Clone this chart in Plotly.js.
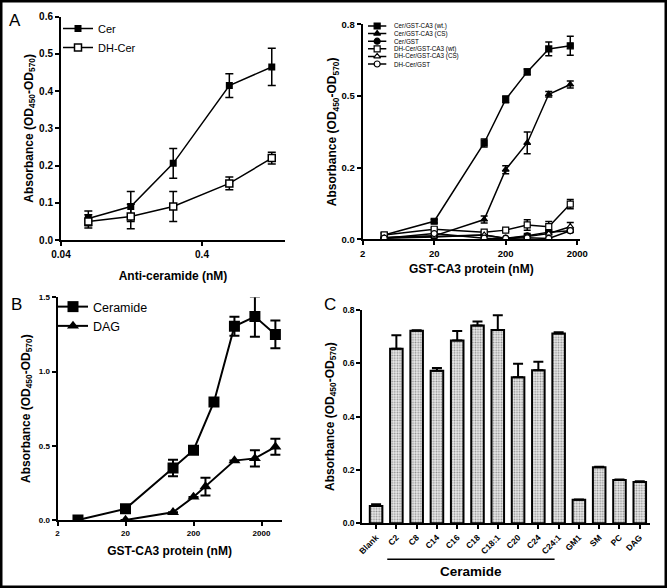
<!DOCTYPE html>
<html>
<head>
<meta charset="utf-8">
<script src="https://cdn.plot.ly/plotly-3.0.1.min.js"></script>
<style>html,body{margin:0;padding:0;background:#fff;}#chart{width:667px;height:588px;}</style>
</head>
<body>
<div id="chart"></div>
<script>
// ---------- Panel A (left): anti-ceramide titration ----------
const antiCerConc = [0.0625, 0.125, 0.25, 0.625, 1.25];
const cerAbs      = [0.058, 0.090, 0.206, 0.415, 0.465];
const cerErr      = [0.020, 0.040, 0.040, 0.032, 0.050];
const dhCerAbs    = [0.050, 0.063, 0.090, 0.152, 0.220];
const dhCerErr    = [0.018, 0.033, 0.040, 0.017, 0.016];
const panelAXTicks = [0.04, 0.4];
const panelAXTickText = ['0.04', '0.4'];

// ---------- Panel A (right): GST-CA3 binding ----------
const gstConc   = [4, 20, 100, 200, 400, 800, 1600];
const cerWT     = [0.015, 0.063, 0.336, 0.488, 0.584, 0.664, 0.675];
const cerWTErr  = [0.008, 0.006, 0.014, 0.012, 0.010, 0.024, 0.033];
const cerCS     = [0.006, 0.012, 0.069, 0.243, 0.336, 0.506, 0.540];
const cerCSErr  = [0.000, 0.000, 0.012, 0.014, 0.038, 0.010, 0.012];
const cerGST    = [0.004, 0.008, 0.015, 0.004, 0.012, 0.025, 0.030];
const cerGSTErr = [0.000, 0.000, 0.000, 0.000, 0.004, 0.006, 0.006];
const dhWT      = [0.015, 0.035, 0.025, 0.032, 0.050, 0.044, 0.123];
const dhWTErr   = [0.004, 0.005, 0.004, 0.004, 0.018, 0.018, 0.016];
const dhCS      = [0.005, 0.010, 0.015, 0.003, 0.010, 0.020, 0.044];
const dhCSErr   = [0.000, 0.000, 0.000, 0.000, 0.010, 0.012, 0.015];
const dhGST     = [0.004, 0.020, 0.004, 0.003, 0.005, 0.003, 0.030];
const dhGSTErr  = [0.000, 0.000, 0.000, 0.000, 0.000, 0.000, 0.004];
const a2Names = ['Cer/GST-CA3 (wt.)', 'Cer/GST-CA3 (CS)', 'Cer/GST',
                 'DH-Cer/GST-CA3 (wt)', 'DH-Cer/GST-CA3 (CS)', 'DH-Cer/GST'];
const a2YTicks = [0, 0.25, 0.5, 0.75];
const a2YTickText = ['0.0', '0.2', '0.5', '0.8'];
const gstXTicks = [2, 20, 200, 2000];
const gstXTickText = ['2', '20', '200', '2000'];

// ---------- Panel B ----------
const bCerConc = [4, 20, 100, 200, 400, 800, 1600, 3200];
const bCerAbs  = [0.000, 0.075, 0.350, 0.470, 0.795, 1.305, 1.370, 1.250];
const bCerErr  = [0.000, 0.000, 0.055, 0.015, 0.015, 0.064, 0.135, 0.093];
const bDagConc = [20, 100, 200, 300, 800, 1600, 3200];
const bDagAbs  = [0.000, 0.052, 0.155, 0.225, 0.400, 0.415, 0.493];
const bDagErr  = [0.000, 0.000, 0.000, 0.060, 0.000, 0.054, 0.054];

// ---------- Panel C ----------
const lipids   = ['Blank','C2','C8','C14','C16','C18','C18:1','C20','C24','C24:1','GM1','SM','PC','DAG'];
const lipidAbs = [0.065, 0.655, 0.722, 0.572, 0.686, 0.742, 0.725, 0.548, 0.574, 0.712, 0.088, 0.210, 0.162, 0.155];
const lipidErr = [0.006, 0.050, 0.002, 0.010, 0.035, 0.015, 0.055, 0.050, 0.032, 0.005, 0.001, 0.002, 0.002, 0.003];
const ceramideGroup = ['C2', 'C24:1'];

// ---------- styling helpers ----------
const F = 'Liberation Sans, Arial, Helvetica, sans-serif';
const W = 667, H = 588;
const px = v => v / W;            // horizontal pixel -> paper
const py = v => 1 - v / H;        // vertical pixel -> paper
const yTitle = 'Absorbance (OD<sub>450</sub>-OD<sub>570</sub>)';

function axis(extra, tsize) {
  return Object.assign({
    showline: true, linecolor: 'black', linewidth: 2,
    ticks: 'outside', ticklen: 4, tickwidth: 2, tickcolor: 'black',
    showgrid: false, zeroline: false, fixedrange: true,
    tickfont: {family: F, size: tsize || 10, weight: 'bold', color: 'black'}
  }, extra);
}
function ttl(text, standoff, size) {
  return {text: text, standoff: standoff, font: {family: F, size: size || 12, weight: 'bold', color: 'black'}};
}
function err(arr, w, th) {
  return {type: 'data', array: arr, visible: true, color: 'black', thickness: th || 1.5, width: w || 4};
}

const traces = [];

// Panel A left
traces.push({x: antiCerConc, y: cerAbs, name: 'Cer', xaxis: 'x', yaxis: 'y', legend: 'legend',
  mode: 'lines+markers', line: {color: 'black', width: 1.5},
  marker: {symbol: 'square', size: 7, color: 'black'}, error_y: err(cerErr, 4, 1.5)});
traces.push({x: antiCerConc, y: dhCerAbs, name: 'DH-Cer', xaxis: 'x', yaxis: 'y', legend: 'legend',
  mode: 'lines+markers', line: {color: 'black', width: 1.5},
  marker: {symbol: 'square', size: 7, color: 'white', line: {color: 'black', width: 1.5}}, error_y: err(dhCerErr, 4, 1.5)});

// Panel A right
const a2Series = [
  {y: cerWT,  e: cerWTErr,  sym: 'square',      fill: 'black'},
  {y: cerCS,  e: cerCSErr,  sym: 'triangle-up', fill: 'black'},
  {y: cerGST, e: cerGSTErr, sym: 'circle',      fill: 'black'},
  {y: dhWT,   e: dhWTErr,   sym: 'square',      fill: 'white'},
  {y: dhCS,   e: dhCSErr,   sym: 'triangle-up', fill: 'white'},
  {y: dhGST,  e: dhGSTErr,  sym: 'circle',      fill: 'white'}
];
a2Series.forEach((s, i) => {
  traces.push({x: gstConc, y: s.y, name: a2Names[i], xaxis: 'x2', yaxis: 'y2', showlegend: false,
    mode: 'lines+markers', line: {color: 'black', width: 1.5},
    marker: {symbol: s.sym, size: 6, color: s.fill, line: {color: 'black', width: 1.2}},
    error_y: err(s.e, 3.5, 1.5)});
});
// hand-made compact legend for panel A right (rows drawn on a hidden helper axis)
a2Series.forEach((s, i) => {
  traces.push({x: [0, 0.5, 1], y: [i, i, i], xaxis: 'x5', yaxis: 'y5', showlegend: false, hoverinfo: 'skip',
    mode: 'lines+markers', cliponaxis: false, line: {color: 'black', width: 1.5},
    marker: {symbol: s.sym, size: 6, color: s.fill, opacity: [0, 1, 0], line: {color: 'black', width: 1.2}}});
});

// Panel B
traces.push({x: bCerConc, y: bCerAbs, name: 'Ceramide', xaxis: 'x3', yaxis: 'y3', legend: 'legend2',
  mode: 'lines+markers', line: {color: 'black', width: 2},
  marker: {symbol: 'square', size: 11, color: 'black'}, error_y: err(bCerErr, 5, 2)});
traces.push({x: bDagConc, y: bDagAbs, name: 'DAG', xaxis: 'x3', yaxis: 'y3', legend: 'legend2',
  mode: 'lines+markers', line: {color: 'black', width: 2},
  marker: {symbol: 'triangle-up', size: 10.5, color: 'black'}, error_y: err(bDagErr, 5, 2)});

// Panel C
traces.push({x: lipids, y: lipidAbs, type: 'bar', xaxis: 'x4', yaxis: 'y4', showlegend: false, width: 0.62,
  marker: {color: '#d8d8d8', line: {color: 'black', width: 2},
    pattern: {shape: '.', size: 2.6, solidity: 0.35, fgcolor: '#8c8c8c', bgcolor: '#ececec', fillmode: 'replace'}},
  error_y: {type: 'data', symmetric: false, array: lipidErr, arrayminus: lipidErr.map(() => 0),
    visible: true, color: 'black', thickness: 2, width: 5}});

// ---------- layout ----------
const iC0 = lipids.indexOf(ceramideGroup[0]), iC1 = lipids.indexOf(ceramideGroup[1]);
const legRow0 = 26, legRowGap = 7.6;
const annotations = [
  {text: 'A', x: px(15), y: py(21)}, {text: 'B', x: px(16), y: py(304)}, {text: 'C', x: px(330), y: py(304)}
].map(a => Object.assign({xref: 'paper', yref: 'paper', showarrow: false, xanchor: 'center', yanchor: 'middle',
  font: {family: F, size: 17, color: 'black'}}, a));
a2Names.forEach((n, i) => annotations.push({text: n, xref: 'paper', yref: 'paper', x: px(391.5), y: py(legRow0 + legRowGap * i),
  xanchor: 'left', yanchor: 'middle', showarrow: false, font: {family: F, size: 6.3, color: 'black'}}));
annotations.push({text: 'Ceramide', xref: 'x4', yref: 'paper', x: (iC0 - 0.45 + iC1 - 0.2) / 2, y: py(571),
  xanchor: 'center', yanchor: 'middle', showarrow: false, font: {family: F, size: 13.5, weight: 'bold', color: 'black'}});

const layout = {
  width: W, height: H, margin: {l: 0, r: 0, t: 0, b: 0},
  paper_bgcolor: 'white', plot_bgcolor: 'rgba(0,0,0,0)',
  font: {family: F, color: 'black'},
  xaxis: axis({type: 'log', domain: [px(61), px(285)], range: [Math.log10(0.04), Math.log10(0.04) + 224 / 141],
    anchor: 'y', tickvals: panelAXTicks, ticktext: panelAXTickText, title: ttl('Anti-ceramide (nM)', 13)}, 10),
  yaxis: axis({domain: [py(240), py(16.7)], range: [0, 0.6], anchor: 'x', dtick: 0.1, tickformat: '.1f',
    title: ttl(yTitle, 3)}, 10),
  xaxis2: axis({type: 'log', domain: [px(362.7), px(580)], range: [Math.log10(2), Math.log10(2) + 217.3 / 71.5],
    anchor: 'y2', tickvals: gstXTicks, ticktext: gstXTickText, title: ttl('GST-CA3 protein (nM)', 7)}, 9.5),
  yaxis2: axis({domain: [py(239.3), py(24.3)], range: [0, 0.75], anchor: 'x2', tickvals: a2YTicks, ticktext: a2YTickText,
    title: ttl(yTitle, 2)}, 9.5),
  xaxis3: axis({type: 'log', domain: [px(57.5), px(281.7)], range: [Math.log10(2), Math.log10(2) + 224.2 / 68],
    anchor: 'y3', tickvals: gstXTicks, ticktext: gstXTickText, title: ttl('GST-CA3 protein (nM)', 10)}, 8),
  yaxis3: axis({domain: [py(520), py(297.3)], range: [0, 1.5], anchor: 'x3', dtick: 0.5, tickformat: '.1f',
    title: ttl(yTitle, 6)}, 8),
  xaxis4: axis({type: 'category', domain: [px(362.3), px(649.7)], range: [-0.68, 13.49], anchor: 'y4',
    tickangle: -45, ticklen: 4}, 8.5),
  yaxis4: axis({domain: [py(523.3), py(310)], range: [0, 0.8], anchor: 'x4', dtick: 0.2, tickformat: '.1f',
    title: ttl(yTitle, 6)}, 8.5),
  xaxis5: {domain: [px(368 - 18.3), px(386.3 + 18.3)], range: [-1, 2], anchor: 'y5', visible: false, fixedrange: true},
  yaxis5: {domain: [py(legRow0 + legRowGap * 6), py(legRow0 - legRowGap)], range: [6, -1], anchor: 'x5', visible: false, fixedrange: true},
  legend: {x: px(58), y: py(14), xanchor: 'left', yanchor: 'top', bgcolor: 'rgba(0,0,0,0)', borderwidth: 0,
    font: {family: F, size: 11, color: 'black'}, tracegroupgap: 0},
  legend2: {x: px(53), y: py(292), xanchor: 'left', yanchor: 'top', bgcolor: 'rgba(0,0,0,0)', borderwidth: 0,
    font: {family: F, size: 12.5, color: 'black'}, tracegroupgap: 0},
  shapes: [
    {type: 'rect', xref: 'paper', yref: 'paper', x0: 0, x1: 1, y0: 0, y1: 1, line: {color: 'black', width: 5}},
    {type: 'line', xref: 'x4', yref: 'paper', x0: iC0 - 0.45, x1: iC1 - 0.2, y0: py(559.3), y1: py(559.3),
      line: {color: 'black', width: 1.5}}
  ],
  annotations: annotations,
  showlegend: true
};

Plotly.newPlot('chart', traces, layout, {displayModeBar: false, staticPlot: true});
</script>
</body>
</html>
